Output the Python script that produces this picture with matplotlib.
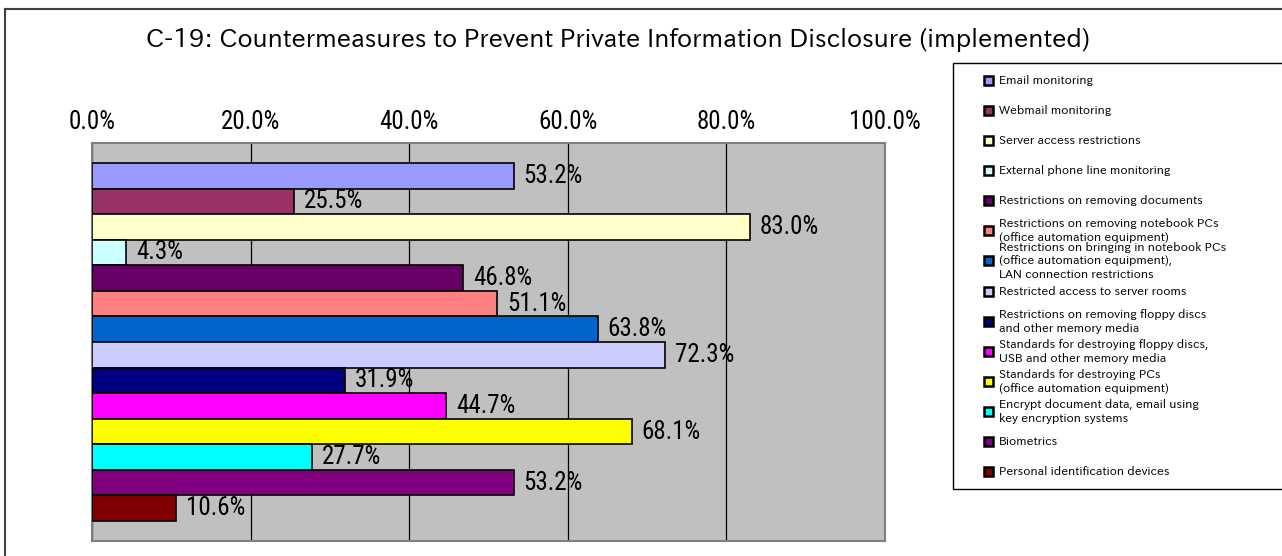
import matplotlib
matplotlib.use("Agg")
import matplotlib.pyplot as plt
from matplotlib.patches import Rectangle
from matplotlib.lines import Line2D

# ---- data -------------------------------------------------------------
title = "C-19: Countermeasures to Prevent Private Information Disclosure (implemented)"

categories = [
    "Email monitoring",
    "Webmail monitoring",
    "Server access restrictions",
    "External phone line monitoring",
    "Restrictions on removing documents",
    "Restrictions on removing notebook PCs\n(office automation equipment)",
    "Restrictions on bringing in notebook PCs\n(office automation equipment),\nLAN connection restrictions",
    "Restricted access to server rooms",
    "Restrictions on removing floppy discs\nand other memory media",
    "Standards for destroying floppy discs,\nUSB and other memory media",
    "Standards for destroying PCs\n(office automation equipment)",
    "Encrypt document data, email using\nkey encryption systems",
    "Biometrics",
    "Personal identification devices",
]

values = [53.2, 25.5, 83.0, 4.3, 46.8, 51.1, 63.8, 72.3, 31.9, 44.7, 68.1, 27.7, 53.2, 10.6]

colors = [
    "#9999FF", "#993366", "#FFFFCC", "#CCFFFF", "#660066", "#FF8080", "#0066CC",
    "#CCCCFF", "#000080", "#FF00FF", "#FFFF00", "#00FFFF", "#800080", "#800000",
]

tick_values = [0, 20, 40, 60, 80, 100]
tick_labels = ["0.0%", "20.0%", "40.0%", "60.0%", "80.0%", "100.0%"]

# ---- layout helpers (pixel -> figure fraction) --------------------------
W, H = 1282, 556
fig = plt.figure(figsize=(W / 100, H / 100), dpi=100)
fig.patch.set_facecolor("white")


def fx(px):
    return px / W


def fy(py):
    return 1 - py / H


GOTHIC = ["IPAPGothic", "Liberation Sans", "DejaVu Sans"]
NARROW = ["Roboto Condensed", "Liberation Sans", "DejaVu Sans"]

# ---- bar chart ----------------------------------------------------------
left, right, top, bottom = 92, 885, 143, 541
ax = fig.add_axes([fx(left), fy(bottom), (right - left) / W, (bottom - top) / H])
ax.set_facecolor("#C0C0C0")

n = len(values)
positions = list(range(n))
ax.barh(positions, values, height=1.0, color=colors, edgecolor="black",
        linewidth=1.2, zorder=3)

ax.set_xlim(0, 100)
margin = 0.78
ax.set_ylim(n - 0.5 + margin, -0.5 - margin)
ax.set_yticks([])

ax.xaxis.tick_top()
ax.set_xticks(tick_values)
ax.set_xticklabels(tick_labels, fontsize=18, family=NARROW)
ax.tick_params(axis="x", length=0, pad=6.5)

ax.set_axisbelow(True)
ax.grid(axis="x", color="black", linewidth=0.9)
for sp in ax.spines.values():
    sp.set_color("#808080")
    sp.set_linewidth(1.5)

for i, v in enumerate(values):
    ax.annotate(f"{v:.1f}%", (v, i), xytext=(7, 0), textcoords="offset points",
                ha="left", va="center", fontsize=18, family=NARROW, zorder=4)

# ---- title --------------------------------------------------------------
fig.text(fx(618), fy(40), title, ha="center", va="center", fontsize=18,
         family=GOTHIC)

# ---- legend -------------------------------------------------------------
fig.add_artist(Rectangle((fx(953), fy(489)), (1300 - 953) / W, (489 - 63) / H,
                         transform=fig.transFigure, facecolor="white",
                         edgecolor="black", linewidth=1.0, zorder=1))
first_y, step = 80, 30.15
for i, (lab, col) in enumerate(zip(categories, colors)):
    yc = first_y + i * step
    fig.add_artist(Rectangle((fx(984), fy(yc + 4.5)), 9 / W, 9 / H,
                             transform=fig.transFigure, facecolor=col,
                             edgecolor="black", linewidth=1.8, zorder=2))
    fig.text(fx(999), fy(yc), lab, ha="left", va="center", fontsize=8.6,
             family=GOTHIC, linespacing=1.3, zorder=2)

# ---- outer frame ---------------------------------------------------------
frame_kw = dict(transform=fig.transFigure, color="#404040", linewidth=1.5)
fig.add_artist(Line2D([fx(5), fx(5)], [fy(9), fy(570)], **frame_kw))
fig.add_artist(Line2D([fx(5), fx(1300)], [fy(9), fy(9)], **frame_kw))

fig.savefig("out.png", dpi=100)
